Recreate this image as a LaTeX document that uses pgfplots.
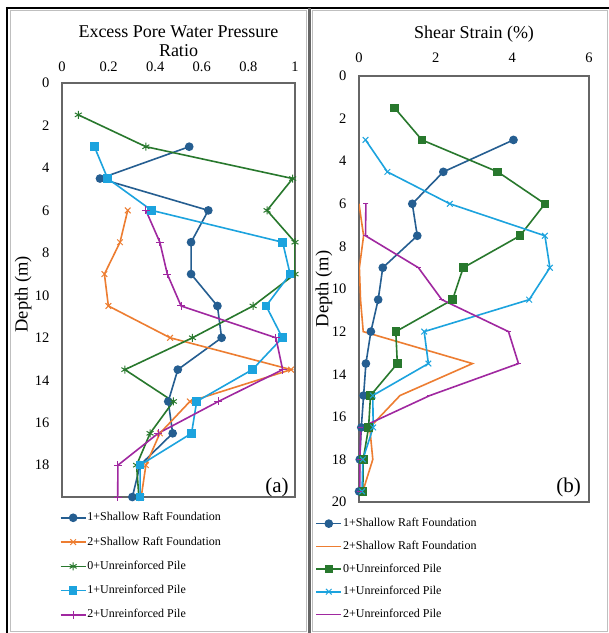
\documentclass[border=0pt]{standalone}
\usepackage{fontspec}
\setmainfont{Liberation Serif}
\usepackage{pgfplots}
\pgfplotsset{compat=1.18}
\definecolor{cDB}{RGB}{37,94,145}
\definecolor{cOR}{RGB}{237,125,49}
\definecolor{cGR}{RGB}{40,120,45}
\definecolor{cLB}{RGB}{28,163,222}
\definecolor{cPU}{RGB}{160,40,160}
\pgfplotsset{
  common/.style={
    scale only axis,
    y dir=reverse,
    xticklabel pos=upper,
    major tick length=0pt,
    axis line style={draw=black!60, line width=1.1pt},
    tick label style={font=\fontsize{14.5}{16}\selectfont},
    yticklabel style={xshift=-9pt},
    /pgf/number format/assume math mode=true,
    every axis plot/.append style={line width=1.6pt},
    title style={font=\fontsize{18}{19}\selectfont, align=center, at={(axis description cs:0.5,1)}, anchor=south, inner sep=0pt},
    ylabel style={font=\fontsize{18.5}{21}\selectfont, anchor=center},
    legend cell align=left,
    legend style={draw=none, fill=none, inner sep=0pt, font=\fontsize{12}{14}\selectfont,
      nodes={inner sep=1pt, text height=8.5pt, text depth=2.5pt}, anchor=north west},
    legend image code/.code={\draw[mark repeat=2,mark phase=2,##1] plot coordinates {(0pt,0pt) (12.5pt,0pt) (25pt,0pt)};},
  }
}
\begin{document}
\begin{tikzpicture}[x=1pt,y=1pt]
\useasboundingbox (0,0) rectangle (609,-633);
\fill[white] (0,0) rectangle (609,-633);
% panel borders
\draw[black!25, line width=0.8pt] (10,-10.5) rectangle (306,-631.5);
\draw[black!25, line width=0.8pt] (312,-10.5) rectangle (607.5,-631.5);

\begin{axis}[common, at={(62pt,-497pt)}, anchor=south west, width=233pt, height=414pt,
  xmin=0, xmax=1, ymin=0, ymax=19.5,
  xtick={0,0.2,0.4,0.6,0.8,1}, xticklabels={0,0.2,0.4,0.6,0.8,1},
  xticklabel style={yshift=8pt},
  ytick={0,2,...,18},
  title={Excess Pore Water Pressure\\Ratio}, title style={yshift=20pt},
  ylabel={Depth (m)}, ylabel style={at={(axis description cs:-0.167,0.49)}},
  legend style={at={(axis description cs:-0.01,-0.034)}, row sep=11.3pt},
]
\addplot[cDB, mark=*, mark size=3.5pt] coordinates {
(0.546,3) (0.163,4.5) (0.628,6) (0.554,7.5) (0.554,9) (0.667,10.5) (0.685,12) (0.497,13.5) (0.456,15) (0.475,16.5) (0.335,18) (0.302,19.5)};
\addlegendentry{1+Shallow Raft Foundation}
\addplot[cOR, mark=x, mark size=4pt, mark options={line width=1pt}] coordinates {
(0.282,6) (0.249,7.5) (0.182,9) (0.199,10.5) (0.464,12) (0.983,13.5) (0.549,15) (0.42,16.5) (0.36,18) (0.34,19.5)};
\addlegendentry{2+Shallow Raft Foundation}
\addplot[cGR, mark=asterisk, mark size=4pt, mark options={line width=1pt}] coordinates {
(0.07,1.5) (0.36,3) (0.99,4.5) (0.88,6) (1.0,7.5) (1.0,9) (0.82,10.5) (0.56,12) (0.27,13.5) (0.478,15) (0.378,16.5) (0.32,18) (0.33,19.5)};
\addlegendentry{0+Unreinforced Pile}
\addplot[cLB, mark=square*, mark size=3.5pt] coordinates {
(0.139,3) (0.196,4.5) (0.385,6) (0.947,7.5) (0.979,9) (0.876,10.5) (0.946,12) (0.817,13.5) (0.578,15) (0.556,16.5) (0.335,18) (0.335,19.5)};
\addlegendentry{1+Unreinforced Pile}
\addplot[cPU, mark=+, mark size=4pt, mark options={line width=1pt}] coordinates {
(0.36,6) (0.42,7.5) (0.452,9) (0.511,10.5) (0.918,12) (0.947,13.5) (0.671,15) (0.413,16.5) (0.24,18) (0.239,19.5)};
\addlegendentry{2+Unreinforced Pile}
\end{axis}

\begin{axis}[common, at={(359pt,-502pt)}, anchor=south west, width=230pt, height=426pt,
  xmin=0, xmax=6, ymin=0, ymax=20,
  xtick={0,2,4,6}, ytick={0,2,...,20},
  xticklabel style={yshift=10pt},
  title={Shear Strain (\%)}, title style={yshift=27pt},
  ylabel={Depth (m)}, ylabel style={at={(axis description cs:-0.152,0.5)}},
  legend style={at={(axis description cs:-0.19,-0.035)}, row sep=9.7pt},
]
\addplot[cDB, mark=*, mark size=3.5pt] coordinates {
(4.03,3) (2.2,4.5) (1.39,6) (1.52,7.5) (0.62,9) (0.5,10.5) (0.31,12) (0.18,13.5) (0.12,15) (0.06,16.5) (0.02,18) (0.0,19.5)};
\addlegendentry{1+Shallow Raft Foundation}
\addplot[cOR, no marks] coordinates {
(0.0,6) (0.12,7.5) (0.01,9) (0.04,10.5) (0.11,12) (2.96,13.5) (1.07,15) (0.28,16.5) (0.36,18) (0.1,19.5)};
\addlegendentry{2+Shallow Raft Foundation}
\addplot[cGR, mark=square*, mark size=3.5pt] coordinates {
(0.93,1.5) (1.64,3) (3.62,4.5) (4.85,6) (4.2,7.5) (2.72,9) (2.44,10.5) (0.96,12) (1.0,13.5) (0.3,15) (0.25,16.5) (0.11,18) (0.1,19.5)};
\addlegendentry{0+Unreinforced Pile}
\addplot[cLB, mark=x, mark size=4pt, mark options={line width=1pt}] coordinates {
(0.17,3) (0.74,4.5) (2.37,6) (4.85,7.5) (4.98,9) (4.44,10.5) (1.7,12) (1.81,13.5) (0.36,15) (0.37,16.5) (0.1,18) (0.08,19.5)};
\addlegendentry{1+Unreinforced Pile}
\addplot[cPU, mark=-, mark size=2.5pt, mark options={line width=1pt}] coordinates {
(0.18,6) (0.17,7.5) (1.55,9) (2.16,10.5) (3.9,12) (4.16,13.5) (1.85,15) (0.05,16.5) (0.02,18) (0.02,19.5)};
\addlegendentry{2+Unreinforced Pile}
\end{axis}

\node[font=\fontsize{21}{24}\selectfont, anchor=base] at (277,-492) {(a)};
\node[font=\fontsize{21}{24}\selectfont, anchor=base] at (568.5,-492) {(b)};

% outer frame
\draw[black, line width=2.5pt] (5.75,-8) -- (609,-8);
\draw[black, line width=2.5pt] (7,-6.75) -- (7,-633);
\draw[black!60, line width=3pt] (309,-8) -- (309,-633);
\end{tikzpicture}
\end{document}
